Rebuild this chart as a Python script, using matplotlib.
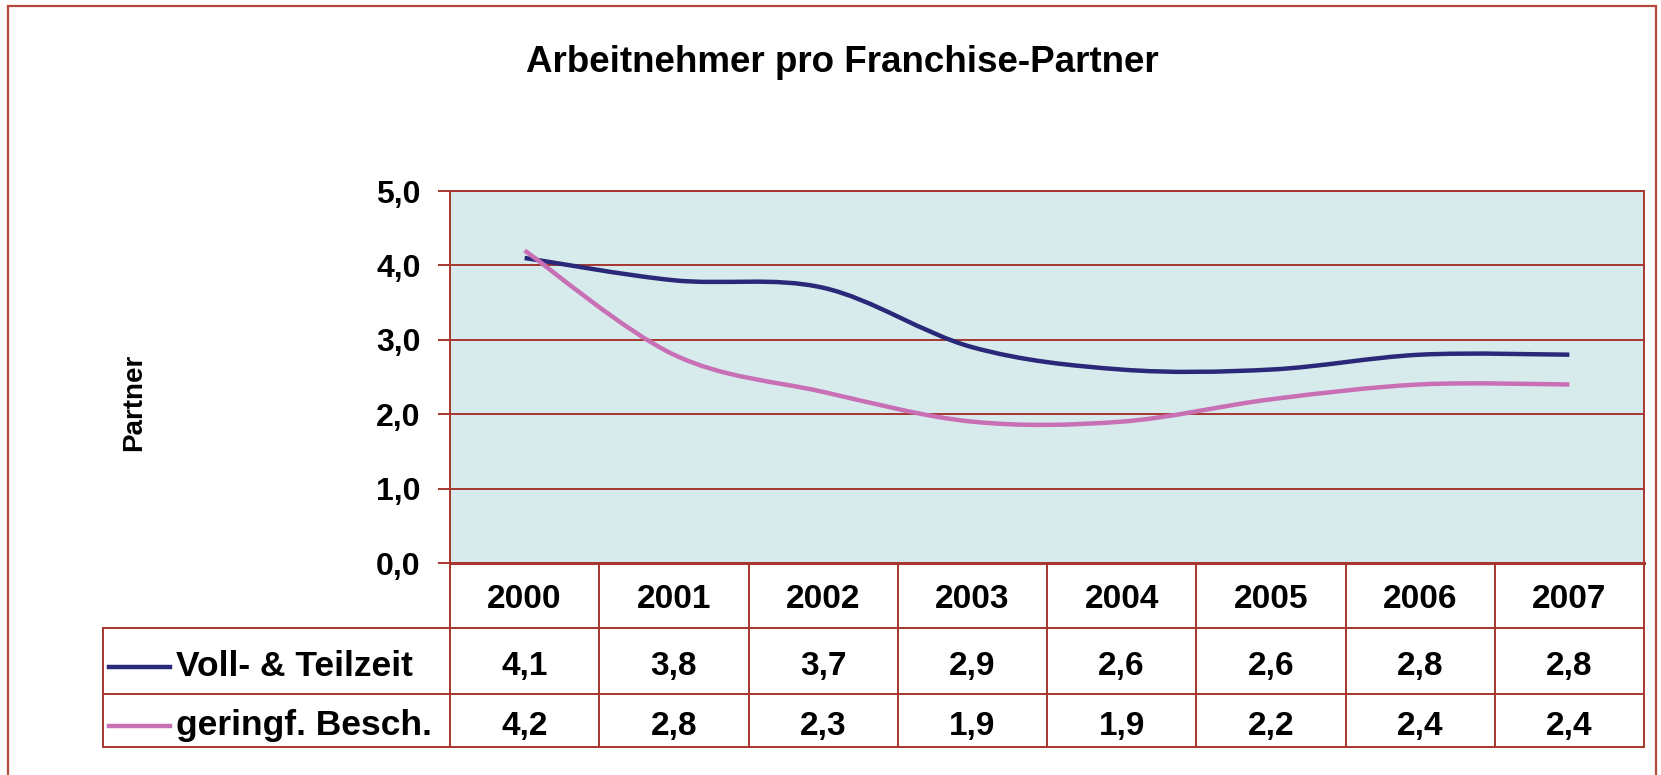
import matplotlib
matplotlib.use("Agg")
import matplotlib.pyplot as plt
from matplotlib.path import Path
from matplotlib.patches import PathPatch, Rectangle
from matplotlib.lines import Line2D
import matplotlib.transforms as mtransforms
import numpy as np

plt.rcParams['font.family'] = ['Liberation Sans', 'DejaVu Sans']
plt.rcParams['font.weight'] = 'bold'

title = "Arbeitnehmer pro Franchise-Partner"
years = ["2000", "2001", "2002", "2003", "2004", "2005", "2006", "2007"]
series_names = ["Voll- & Teilzeit", "geringf. Besch."]
voll = [4.1, 3.8, 3.7, 2.9, 2.6, 2.6, 2.8, 2.8]
gering = [4.2, 2.8, 2.3, 1.9, 1.9, 2.2, 2.4, 2.4]
yticks = [0.0, 1.0, 2.0, 3.0, 4.0, 5.0]
ylabel = "Partner"

colors = ["#2A2878", "#C86FB5"]
grid_c = "#A8362E"
bg_c = "#D7EBEC"

W, H = 1661, 775
fig = plt.figure(figsize=(W / 100, H / 100), dpi=100)
fig.patch.set_facecolor("white")

# outer frame
fig.add_artist(Rectangle((8 / W, -0.05), (1656 - 8) / W, 1.05 - 6 / H,
                         transform=fig.transFigure, fill=False,
                         edgecolor="#B5473D", lw=1.6))

L, R, T, B = 450, 1644, 191, 563
ax = fig.add_axes([L / W, 1 - B / H, (R - L) / W, (B - T) / H])
ax.set_facecolor(bg_c)
ax.set_xlim(-0.5, len(years) - 0.5)
ax.set_ylim(0, 5)
ax.set_yticks(yticks)
ax.set_yticklabels([f"{v:.1f}".replace(".", ",") for v in yticks],
                   fontsize=23, fontweight='bold')
ax.set_xticks([])
ax.tick_params(axis='y', direction='out', length=9, width=1.4,
               color=grid_c, pad=12)
for y in yticks[1:]:
    ax.axhline(y, color=grid_c, lw=1.4, zorder=1)
for s in ax.spines.values():
    s.set_color(grid_c)
    s.set_linewidth(1.4)
ax.spines['bottom'].set_linewidth(2.2)


def smooth_path(xs, ys):
    pts = np.column_stack([xs, ys]).astype(float)
    n = len(pts)
    verts = [pts[0]]
    codes = [Path.MOVETO]
    for i in range(n - 1):
        p0 = pts[i - 1] if i > 0 else pts[i]
        p1 = pts[i]
        p2 = pts[i + 1]
        p3 = pts[i + 2] if i + 2 < n else pts[i + 1]
        c1 = p1 + (p2 - p0) / 6.0
        c2 = p2 - (p3 - p1) / 6.0
        verts += [c1, c2, p2]
        codes += [Path.CURVE4] * 3
    return Path(verts, codes)


xs = np.arange(len(years))
for vals, c in zip([voll, gering], colors):
    ax.add_patch(PathPatch(smooth_path(xs, vals), fill=False, edgecolor=c,
                           lw=3.2, zorder=3, capstyle='butt'))

fig.text(842 / W, 1 - 63 / H, title, ha='center', va='center',
         fontsize=26.5, fontweight='bold')
fig.text(134 / W, 1 - 402 / H, ylabel, ha='center', va='center',
         rotation=90, fontsize=20, fontweight='bold')

# data table below the axes
trans = mtransforms.blended_transform_factory(ax.transData, ax.transAxes)
ah = B - T
def ya(py):
    return -(py - B) / ah

hdr_bot, r1_bot, r2_bot = 628, 694, 747
leg_left = 103
x_leg = -0.5 - (L - leg_left) / ((R - L) / len(years))
lw_t = 1.4
# horizontal lines
ax.add_line(Line2D([-0.5, len(years) - 0.5], [ya(B), ya(B)], transform=trans,
                   color=grid_c, lw=lw_t, clip_on=False))
for yy in [hdr_bot, r1_bot, r2_bot]:
    ax.add_line(Line2D([x_leg, len(years) - 0.5], [ya(yy), ya(yy)],
                       transform=trans, color=grid_c, lw=lw_t, clip_on=False))
# vertical lines
for xb in np.arange(len(years) + 1) - 0.5:
    ax.add_line(Line2D([xb, xb], [ya(B), ya(r2_bot)], transform=trans,
                       color=grid_c, lw=lw_t, clip_on=False))
ax.add_line(Line2D([x_leg, x_leg], [ya(hdr_bot), ya(r2_bot)], transform=trans,
                   color=grid_c, lw=lw_t, clip_on=False))

fs_t = 24
yc_hdr = ya(600)
row_c = [ya(667), ya(726)]
for i, yr in enumerate(years):
    ax.text(i, yc_hdr, yr, transform=trans, ha='center', va='center',
            fontsize=fs_t, fontweight='bold', clip_on=False)
for vals, yc in zip([voll, gering], row_c):
    for i, v in enumerate(vals):
        ax.text(i, yc, f"{v:.1f}".replace(".", ","), transform=trans,
                ha='center', va='center', fontsize=fs_t, fontweight='bold',
                clip_on=False)

unit = (R - L) / len(years)
def xd(px):
    return -0.5 + (px - L) / unit

for name, c, yc in zip(series_names, colors, row_c):
    ax.add_line(Line2D([xd(109), xd(170)], [yc, yc], transform=trans,
                       color=c, lw=3.2, clip_on=False))
    ax.text(xd(176), yc, name, transform=trans, ha='left', va='center',
            fontsize=25.5, fontweight='bold', clip_on=False)

fig.savefig("out.png", dpi=100, facecolor="white")
